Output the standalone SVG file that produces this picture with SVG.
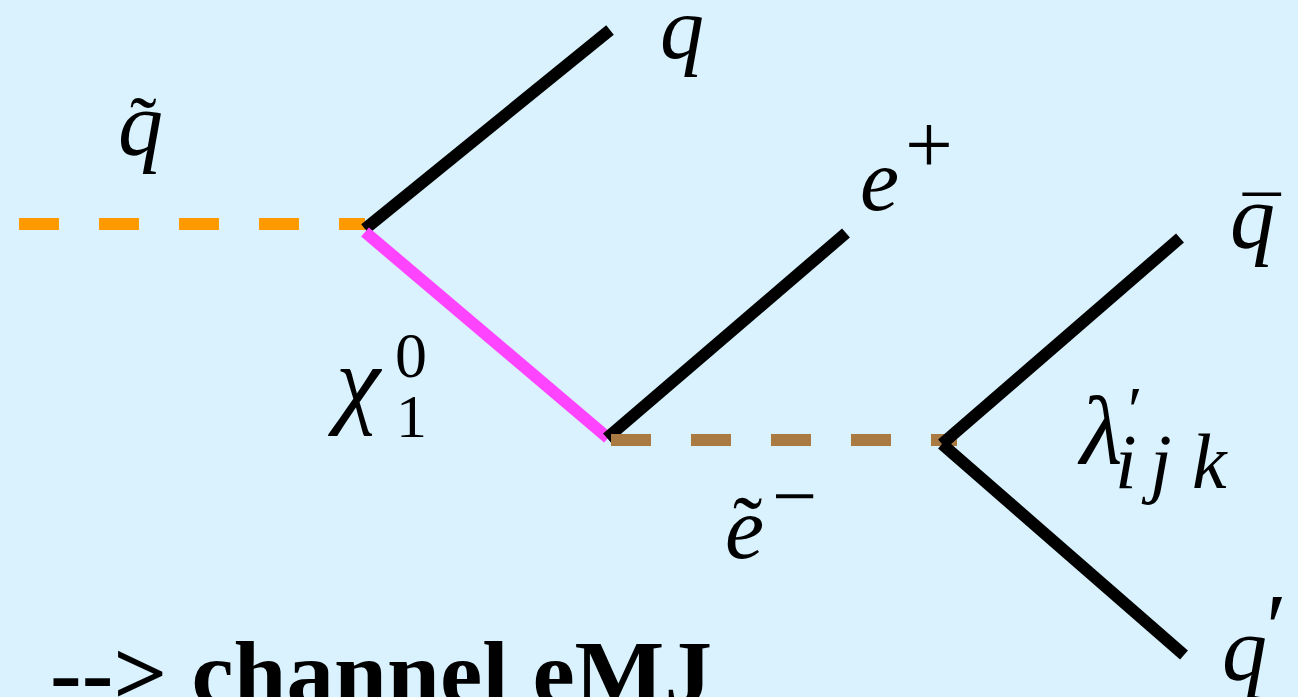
<svg xmlns="http://www.w3.org/2000/svg" width="1298" height="697" viewBox="0 0 1298 697">
<style>
.m{font-family:"Liberation Serif","DejaVu Serif",serif;font-style:italic;fill:#000}
.r{font-family:"Liberation Serif","DejaVu Serif",serif;fill:#000}
.ln{stroke-width:12;stroke-linecap:butt;fill:none}
.t{font-family:"Liberation Serif","DejaVu Serif",serif;font-weight:bold;fill:#000}
</style>
<rect x="0" y="0" width="1298" height="697" fill="#d9f2fd"/>
<g id="connectors">
<line class="ln" x1="19" y1="224" x2="365" y2="224" stroke="#ff9900" stroke-width="13" stroke-dasharray="40 40"/>
<line class="ln" x1="365" y1="229" x2="610" y2="30" stroke="#000"/>
<line class="ln" x1="365" y1="232" x2="608" y2="438" stroke="#ff44ff"/>
<line class="ln" x1="607" y1="438" x2="846" y2="233" stroke="#000"/>
<line class="ln" x1="611" y1="440" x2="957" y2="440" stroke="#aa7a43" stroke-width="13" stroke-dasharray="40 40"/>
<line class="ln" x1="942" y1="444" x2="1180" y2="238" stroke="#000"/>
<line class="ln" x1="942" y1="444" x2="1184" y2="655" stroke="#000"/>
</g>
<g id="squark">
<text class="m" x="118" y="155" font-size="90">q</text>
<text class="r" x="130" y="152" font-size="80">˜</text>
</g>
<g id="quark-q">
<text class="m" x="660" y="58" font-size="88">q</text>
</g>
<g id="positron">
<text class="m" x="860" y="210" font-size="88">e</text>
<text class="r" x="905" y="173" font-size="85">+</text>
</g>
<g id="antiquark">
<text class="m" x="1230" y="248" font-size="90">q</text>
<text class="r" x="1243" y="249" font-size="75">¯</text>
</g>
<g id="quark-prime">
<text class="m" x="1222" y="680" font-size="90">q</text>
<text class="r" x="1266" y="660" font-size="95">′</text>
</g>
<g id="neutralino">
<text class="m" x="336" y="415" font-size="100">χ</text>
<text class="r" x="395" y="377" font-size="64">0</text>
<text class="r" x="396" y="437" font-size="62">1</text>
</g>
<g id="selectron">
<text class="m" x="725" y="558" font-size="88">e</text>
<text class="r" x="733" y="558" font-size="88">˜</text>
<text class="r" x="772" y="523" font-size="80">−</text>
</g>
<g id="coupling">
<text class="m" x="1080" y="463" font-size="98">λ</text>
<text class="r" x="1128" y="432" font-size="66">′</text>
<text class="m" x="1115" y="488" font-size="78">i<tspan x="1150">j</tspan><tspan x="1192">k</tspan></text>
</g>
<g id="caption">
<text class="t" x="50" y="704" font-size="92" textLength="662" lengthAdjust="spacingAndGlyphs">--&gt; channel eMJ</text>
</g>
</svg>
